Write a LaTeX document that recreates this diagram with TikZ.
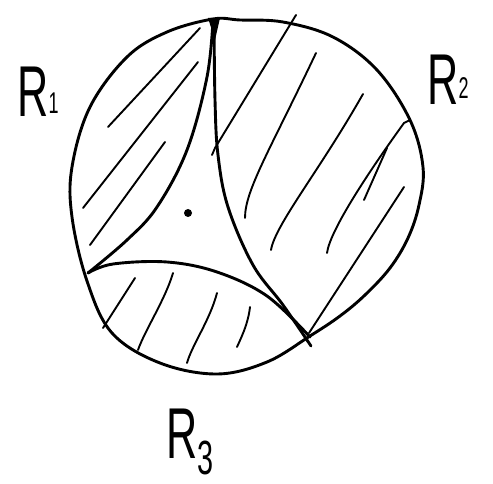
\documentclass[tikz,border=0pt]{standalone}
\usepackage{fontspec}
\setmainfont{Liberation Sans}
\newcommand{\subnum}[3]{\raisebox{#2}{\fontsize{#1}{#1}\selectfont #3}}
\begin{document}
\begin{tikzpicture}[x=1pt,y=-1pt,
  bound/.style={line width=2.9pt,line cap=round,line join=round},
  hatch/.style={line width=1.9pt,line cap=round},
  lbl/.style={inner sep=0pt,font=\fontsize{72}{72}\selectfont,xscale=0.6}]
\useasboundingbox[fill=white] (0,0) rectangle (493,484);
% outer circle
\draw[bound] plot[smooth cycle,tension=0.6] coordinates {(213,19) (240,20) (283,22) (333,37) (377,70) (410,120) (423,167) (419,205) (408,238) (390,268) (365,295) (340,316) (310,336) (267,362) (217,374) (160,363) (112,333) (87,281) (72,217) (72,167) (90,107) (127,57) (167,32)};
% inner boundaries
\draw[bound] plot[smooth,tension=0.6] coordinates {(213,20) (207,77) (187,150) (157,207) (127,240) (88,273)};
\draw[bound] plot[smooth,tension=0.6] coordinates {(214,20) (215,100) (218,155) (228,207) (253,265) (283,305) (311,346)};
\draw[bound] plot[smooth,tension=0.6] coordinates {(88,273) (113,264) (167,262) (217,272) (267,296) (310,337)};
\fill (208,18) -- (220,18) -- (215,40) -- cycle;
% hatching R1
\draw[hatch] (200,28) -- (108,127);
\draw[hatch] (198,62) -- (83,208);
\draw[hatch] (165,142) -- (90,245);
% hatching R2
\draw[hatch] (296,15) -- (215,148) -- (212,155);
\draw[hatch] (316,53) .. controls (270,150) and (245,190) .. (245,218);
\draw[hatch] (363,94) .. controls (320,170) and (275,225) .. (271,250);
\draw[hatch] (410,120) -- (404,123) .. controls (370,170) and (330,230) .. (327,253);
\draw[hatch] (387,148) -- (364,200);
\draw[hatch] (404,187) -- (309,333);
% hatching R3
\draw[hatch] (135,278) -- (103,328);
\draw[hatch] (173,273) .. controls (165,300) and (145,330) .. (138,350);
\draw[hatch] (217,293) .. controls (210,320) and (192,345) .. (187,363);
\draw[hatch] (250,307) .. controls (248,325) and (240,340) .. (237,347);
% centre dot
\fill (188,213) circle (4);
% labels
\node[lbl] (r1) at (38,92) {R\subnum{30}{3pt}{1}};
\node[lbl] (r2) at (448,80) {R\subnum{30}{6pt}{2}};
\node[lbl] (r3) at (190,442) {R\subnum{48}{-16pt}{3}};
\end{tikzpicture}
\end{document}
